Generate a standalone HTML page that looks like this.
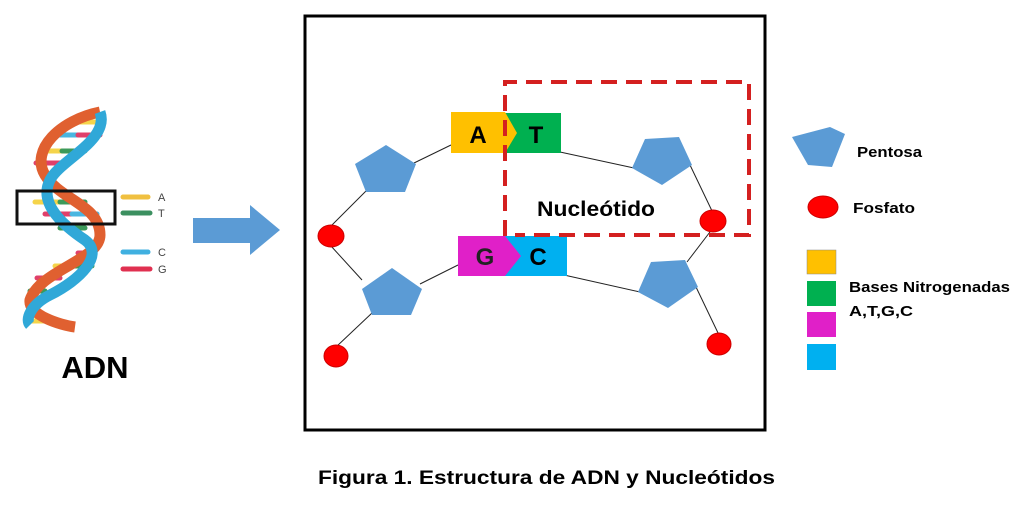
<!DOCTYPE html>
<html><head><meta charset="utf-8"><style>
body{margin:0;background:#fff;width:1024px;height:512px;overflow:hidden}
svg{display:block}
text{font-family:"Liberation Sans",sans-serif;font-weight:bold}
</style></head><body>
<svg width="1024" height="512" viewBox="0 0 1024 512" xmlns="http://www.w3.org/2000/svg">
<!-- helix rungs -->
<g stroke-width="5" stroke-linecap="round">
<line x1="75" y1="122" x2="95" y2="122" stroke="#f5d44a"/>
<line x1="55" y1="135" x2="78" y2="135" stroke="#4ab6e0"/><line x1="78" y1="135" x2="100" y2="135" stroke="#e0406a"/>
<line x1="42" y1="151" x2="62" y2="151" stroke="#f5d44a"/><line x1="62" y1="151" x2="85" y2="151" stroke="#3c9a5a"/>
<line x1="36" y1="163" x2="60" y2="163" stroke="#e0406a"/>
<line x1="35" y1="202" x2="60" y2="202" stroke="#f5d44a"/><line x1="60" y1="202" x2="85" y2="202" stroke="#3c9a5a"/>
<line x1="45" y1="214" x2="72" y2="214" stroke="#e0406a"/><line x1="72" y1="214" x2="97" y2="214" stroke="#4ab6e0"/>
<line x1="60" y1="228" x2="85" y2="228" stroke="#3c9a5a"/>
<line x1="78" y1="253" x2="95" y2="253" stroke="#e0406a"/>
<line x1="55" y1="266" x2="72" y2="266" stroke="#f5d44a"/><line x1="72" y1="266" x2="92" y2="266" stroke="#3c9a5a"/>
<line x1="37" y1="278" x2="60" y2="278" stroke="#e0406a"/>
<line x1="30" y1="291" x2="45" y2="291" stroke="#3c9a5a"/>
<line x1="30" y1="321" x2="55" y2="321" stroke="#f5d44a"/>
</g>
<path d="M100 112 C60 120,30 150,45 175 C60 200,100 205,100 235 C100 260,40 270,30 300 C28 315,60 325,75 327" fill="none" stroke="#e06030" stroke-width="11"/>
<path d="M100 112 C110 140,60 160,50 180 C40 200,55 220,85 240 C105 255,80 280,50 295 C30 305,25 320,30 325" fill="none" stroke="#30a8d8" stroke-width="11"/>
<rect x="17" y="191" width="98" height="33" fill="none" stroke="#111" stroke-width="3"/>
<g stroke-width="5" stroke-linecap="round">
<line x1="123" y1="197" x2="148" y2="197" stroke="#f0c040"/>
<line x1="123" y1="213" x2="150" y2="213" stroke="#3c9060"/>
<line x1="123" y1="252" x2="148" y2="252" stroke="#40b0e0"/>
<line x1="123" y1="269" x2="150" y2="269" stroke="#e03050"/>
</g>
<g font-size="11" fill="#444">
<text x="158" y="201" style="font-weight:normal">A</text><text x="158" y="217" style="font-weight:normal">T</text>
<text x="158" y="256" style="font-weight:normal">C</text><text x="158" y="273" style="font-weight:normal">G</text>
</g>
<text x="95" y="378" font-size="31" text-anchor="middle" fill="#000">ADN</text>
<polygon points="193,218 250,218 250,205 280,230 250,255 250,243 193,243" fill="#5b9bd5"/>
<!-- frame -->
<rect x="305" y="16" width="460" height="414" fill="none" stroke="#000" stroke-width="3"/>
<g stroke="#222" stroke-width="1">
<line x1="414" y1="163" x2="451" y2="145"/><line x1="560" y1="152" x2="634" y2="168"/>
<line x1="690" y1="165" x2="713" y2="213"/><line x1="713" y1="228" x2="687" y2="262"/>
<line x1="564" y1="275" x2="640" y2="292"/><line x1="696" y1="287" x2="719" y2="335"/>
<line x1="331" y1="226" x2="367" y2="190"/><line x1="331" y1="246" x2="362" y2="280"/>
<line x1="420" y1="284" x2="458" y2="265"/><line x1="372" y1="313" x2="336" y2="347"/>
</g>
<g fill="#5b9bd5">
<polygon points="386,145 416,164 405,192 366,192 355,164"/>
<polygon points="392,268 422,289 411,315 372,315 362,289"/>
<polygon points="679,137 692,165 662,185 632,168 645,139"/>
<polygon points="685,260 698,287 668,308 638,292 651,262"/>
<polygon points="845,134 832,167 808,165 792,137 830,127"/>
</g>
<g fill="#f00" stroke="#c00" stroke-width="1">
<ellipse cx="331" cy="236" rx="13" ry="11"/><ellipse cx="336" cy="356" rx="12" ry="11"/>
<ellipse cx="713" cy="221" rx="13" ry="11"/><ellipse cx="719" cy="344" rx="12" ry="11"/>
<ellipse cx="823" cy="207" rx="15" ry="11"/>
</g>
<rect x="505" y="113" width="56" height="40" fill="#00b050"/>
<polygon points="451,112 505,112 517,133 505,153 451,153" fill="#ffc000"/>
<rect x="505" y="236" width="62" height="40" fill="#00b0f0"/>
<polygon points="458,236 505,236 521,256 505,276 458,276" fill="#e020c8"/>
<text x="478" y="143" font-size="24" text-anchor="middle">A</text>
<text x="536" y="143" font-size="24" text-anchor="middle">T</text>
<text x="485" y="265" font-size="24" text-anchor="middle" fill="#222">G</text>
<text x="538" y="265" font-size="24" text-anchor="middle">C</text>
<path d="M505 236 V82 H749 V235 H515" fill="none" stroke="#d42020" stroke-width="4" stroke-dasharray="16,9"/>
<text x="537" y="216" font-size="21" textLength="118" lengthAdjust="spacingAndGlyphs">Nucleótido</text>
<text x="857" y="157" font-size="15" textLength="65" lengthAdjust="spacingAndGlyphs">Pentosa</text>
<text x="853" y="213" font-size="15" textLength="62" lengthAdjust="spacingAndGlyphs">Fosfato</text>
<rect x="807" y="250" width="29" height="24" fill="#ffc000" stroke="#888" stroke-width="0.5"/>
<rect x="807" y="281" width="29" height="25" fill="#00b050"/>
<rect x="807" y="312" width="29" height="25" fill="#e020c8"/>
<rect x="807" y="344" width="29" height="26" fill="#00b0f0"/>
<text x="849" y="292" font-size="15" textLength="161" lengthAdjust="spacingAndGlyphs">Bases Nitrogenadas</text>
<text x="849" y="316" font-size="15" textLength="64" lengthAdjust="spacingAndGlyphs">A,T,G,C</text>
<text x="318" y="484" font-size="19" textLength="457" lengthAdjust="spacingAndGlyphs">Figura 1. Estructura de ADN  y Nucleótidos</text>
</svg>
</body></html>
